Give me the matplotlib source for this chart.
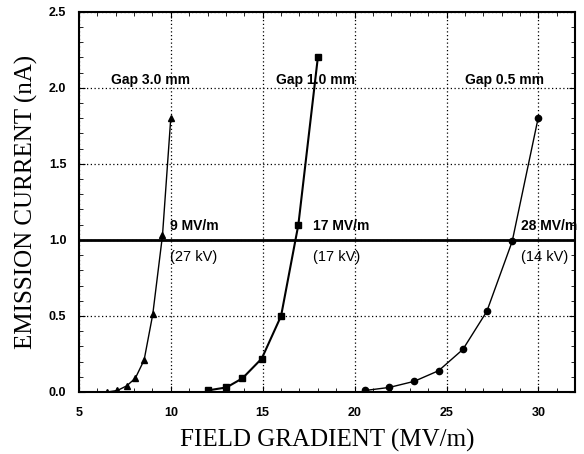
import matplotlib
matplotlib.use("Agg")
import matplotlib.pyplot as plt
from matplotlib.ticker import MultipleLocator

# Gap 3.0 mm (triangles)
gap30_x = [6.55, 7.1, 7.6, 8.07, 8.55, 9.02, 9.55, 10.0]
gap30_y = [0.0, 0.01, 0.04, 0.09, 0.21, 0.51, 1.03, 1.80]

# Gap 1.0 mm (squares)
gap10_x = [12.0, 13.03, 13.9, 14.95, 16.0, 16.94, 18.0]
gap10_y = [0.01, 0.03, 0.09, 0.22, 0.50, 1.10, 2.20]

# Gap 0.5 mm (circles)
gap05_x = [20.58, 21.89, 23.24, 24.57, 25.89, 27.19, 28.57, 29.98]
gap05_y = [0.01, 0.03, 0.07, 0.14, 0.28, 0.53, 0.99, 1.80]

threshold = 1.0

gap_labels = ["Gap 3.0 mm", "Gap 1.0 mm", "Gap 0.5 mm"]
gap_label_x = [8.9, 17.85, 28.15]
field_labels = ["9 MV/m", "17 MV/m", "28 MV/m"]
kv_labels = ["(27 kV)", "(17 kV)", "(14 kV)"]
field_label_x = [9.95, 17.75, 29.05]

fig = plt.figure(figsize=(5.84, 4.54), dpi=100)
ax = fig.add_axes([0.135, 0.1366, 0.85, 0.8374])

ax.plot(gap30_x, gap30_y, color="black", lw=1.0, marker="^", ms=4)
ax.plot(gap10_x, gap10_y, color="black", lw=1.5, marker="s", ms=5)
ax.plot(gap05_x, gap05_y, color="black", lw=1.0, marker="o", ms=4.5)
ax.axhline(threshold, color="black", lw=2)

ax.set_xlim(5, 32)
ax.set_ylim(0, 2.5)
ax.xaxis.set_major_locator(MultipleLocator(5))
ax.xaxis.set_minor_locator(MultipleLocator(1))
ax.yaxis.set_major_locator(MultipleLocator(0.5))
ax.yaxis.set_minor_locator(MultipleLocator(0.1))
ax.set_xticks([5, 10, 15, 20, 25, 30])
ax.set_yticklabels([f"{v:.1f}" for v in ax.get_yticks()])
ax.grid(True, which="major", ls=(0, (1, 2)), color="black", lw=0.9)
ax.tick_params(which="both", direction="in", top=True, right=True, labelsize=9)
ax.tick_params(which="major", length=4)
ax.tick_params(which="minor", length=3)
ax.tick_params(axis="x", pad=11)
ax.tick_params(axis="y", pad=9)
for lab in ax.get_xticklabels() + ax.get_yticklabels():
    lab.set_family("Liberation Sans")
    lab.set_fontweight("bold")
for s in ax.spines.values():
    s.set_linewidth(1.5)

for txt, x in zip(gap_labels, gap_label_x):
    ax.text(x, 2.05, txt, ha="center", va="center", fontsize=10,
            family="Liberation Sans", fontweight="bold")
for f, k, x in zip(field_labels, kv_labels, field_label_x):
    ax.text(x, 1.09, f, ha="left", va="center", fontsize=10,
            family="Liberation Sans", fontweight="bold", clip_on=False)
    ax.text(x, 0.89, k, ha="left", va="center", fontsize=10.5,
            family="Liberation Sans")

ax.set_xlabel("FIELD GRADIENT (MV/m)", family="Liberation Serif", fontsize=18, labelpad=7)
ax.set_ylabel("EMISSION CURRENT (nA)", family="Liberation Serif", fontsize=18, labelpad=8)

fig.savefig("out.png", dpi=100)
